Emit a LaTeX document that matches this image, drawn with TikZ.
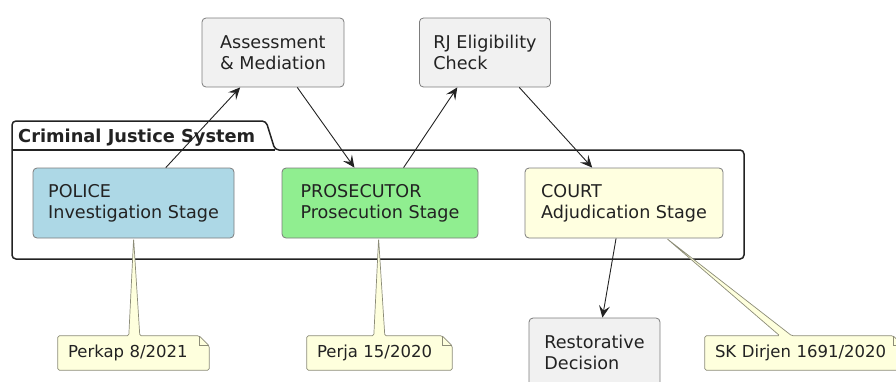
\documentclass[tikz,border=0pt]{standalone}
\usepackage{fontspec}
\setmainfont{DejaVu Sans}
\usetikzlibrary{arrows.meta,calc}
\definecolor{boxgray}{HTML}{F1F1F1}
\definecolor{polblue}{HTML}{ADD8E6}
\definecolor{progreen}{HTML}{90EE90}
\definecolor{courtyel}{HTML}{FFFFE0}
\definecolor{notefill}{HTML}{FEFFDD}
\definecolor{edgegray}{HTML}{7C7C7C}
\definecolor{notegray}{HTML}{8C8C78}
\definecolor{inkc}{HTML}{222222}
\begin{document}
\begin{tikzpicture}[x=1pt,y=-1pt,
  comp/.style={draw=edgegray, line width=0.8pt, rounded corners=4pt, inner xsep=14pt, inner ysep=0pt,
    align=left, minimum height=70pt, font=\fontsize{17.6}{20.8}\selectfont, text=inkc},
  arr/.style={-{Stealth[length=12pt,width=11pt,inset=5pt]}, line width=0.9pt, draw=inkc},
  notebox/.style={inner xsep=10pt, inner ysep=0pt, align=left, minimum height=34pt,
    font=\fontsize{16.5}{19}\selectfont, text=inkc},
  noteline/.style={draw=notegray, fill=notefill, line width=0.7pt, rounded corners=1.5pt},
  pkg/.style={draw=inkc, line width=1.5pt, rounded corners=4pt}]
\useasboundingbox (0,0) rectangle (896,381);
\clip (0,0) rectangle (896,381);
% package
\draw[pkg] (12,259) -- (12,121) -- (266,121) -- (275,150) -- (744,150) -- (744,259) -- cycle;
\draw[draw=inkc, line width=1.5pt] (12,150) -- (275,150);
\node[anchor=base west, inner sep=0pt, font=\bfseries\fontsize{17.8}{20}\selectfont, text=inkc] (pkgtitle) at (18,142) {Criminal Justice System};
% boxes
\node[comp, fill=boxgray, minimum width=142pt, minimum height=69pt] (assess) at (273,52.5) {Assessment\\\& Mediation};
\node[comp, fill=boxgray, minimum width=126pt, minimum height=69pt] (rj) at (485,52.5) {RJ Eligibility\\Check};
\node[comp, fill=polblue, minimum width=201pt] (police) at (133.5,203) {POLICE\\Investigation Stage};
\node[comp, fill=progreen, minimum width=196pt] (prosec) at (380,203) {PROSECUTOR\\Prosecution Stage};
\node[comp, fill=courtyel, minimum width=198pt] (court) at (624,203) {COURT\\Adjudication Stage};
\node[comp, fill=boxgray, minimum width=131pt, minimum height=69pt] (restor) at (594.5,352.5) {Restorative\\Decision};
% arrows
\draw[arr] ($(police.north west)!0.66!(police.north east)$) -- ($(assess.south west)!0.27!(assess.south east)$);
\draw[arr] ($(assess.south west)!0.67!(assess.south east)$) -- ($(prosec.north west)!0.37!(prosec.north east)$);
\draw[arr] ($(prosec.north west)!0.62!(prosec.north east)$) -- ($(rj.south west)!0.29!(rj.south east)$);
\draw[arr] ($(rj.south west)!0.76!(rj.south east)$) -- ($(court.north west)!0.34!(court.north east)$);
\draw[arr] ($(court.south west)!0.46!(court.south east)$) -- ($(restor.north west)!0.56!(restor.north east)$);
% note frames (coordinate-only nodes)
\node[notebox, minimum width=151pt, text width=131pt] (n1) at (133.5,353) {};
\node[notebox, minimum width=145pt, text width=125pt] (n2) at (379.5,353) {};
\node[notebox, minimum width=198pt, text width=178pt] (n3) at (804,353) {};
\draw[noteline] (n1.north west) -- ($(n1.north west)+(71,0)$) -- ($(police.south west)+(101,0)$)
  -- ($(n1.north west)+(82,0)$) -- ($(n1.north east)+(-10,0)$) -- ($(n1.north east)+(0,10)$)
  -- (n1.south east) -- (n1.south west) -- cycle;
\draw[draw=notegray, line width=0.7pt] ($(n1.north east)+(-10,0)$) -- ($(n1.north east)+(-10,10)$) -- ($(n1.north east)+(0,10)$);
\draw[noteline] (n2.north west) -- ($(n2.north west)+(67,0)$) -- ($(prosec.south west)+(97,0)$)
  -- ($(n2.north west)+(78,0)$) -- ($(n2.north east)+(-10,0)$) -- ($(n2.north east)+(0,10)$)
  -- (n2.south east) -- (n2.south west) -- cycle;
\draw[draw=notegray, line width=0.7pt] ($(n2.north east)+(-10,0)$) -- ($(n2.north east)+(-10,10)$) -- ($(n2.north east)+(0,10)$);
\draw[noteline] (n3.north west) -- ($(n3.north west)+(75,0)$) -- ($(court.south west)+(142,0)$)
  -- ($(n3.north west)+(87,0)$) -- ($(n3.north east)+(-10,0)$) -- ($(n3.north east)+(0,10)$)
  -- (n3.south east) -- (n3.south west) -- cycle;
\draw[draw=notegray, line width=0.7pt] ($(n3.north east)+(-10,0)$) -- ($(n3.north east)+(-10,10)$) -- ($(n3.north east)+(0,10)$);
% note texts on top
\node[notebox, minimum width=151pt, text width=131pt] (n1t) at (n1) {Perkap 8/2021};
\node[notebox, minimum width=145pt, text width=125pt] (n2t) at (n2) {Perja 15/2020};
\node[notebox, minimum width=198pt, text width=178pt] (n3t) at (n3) {SK Dirjen 1691/2020};
\end{tikzpicture}
\end{document}
